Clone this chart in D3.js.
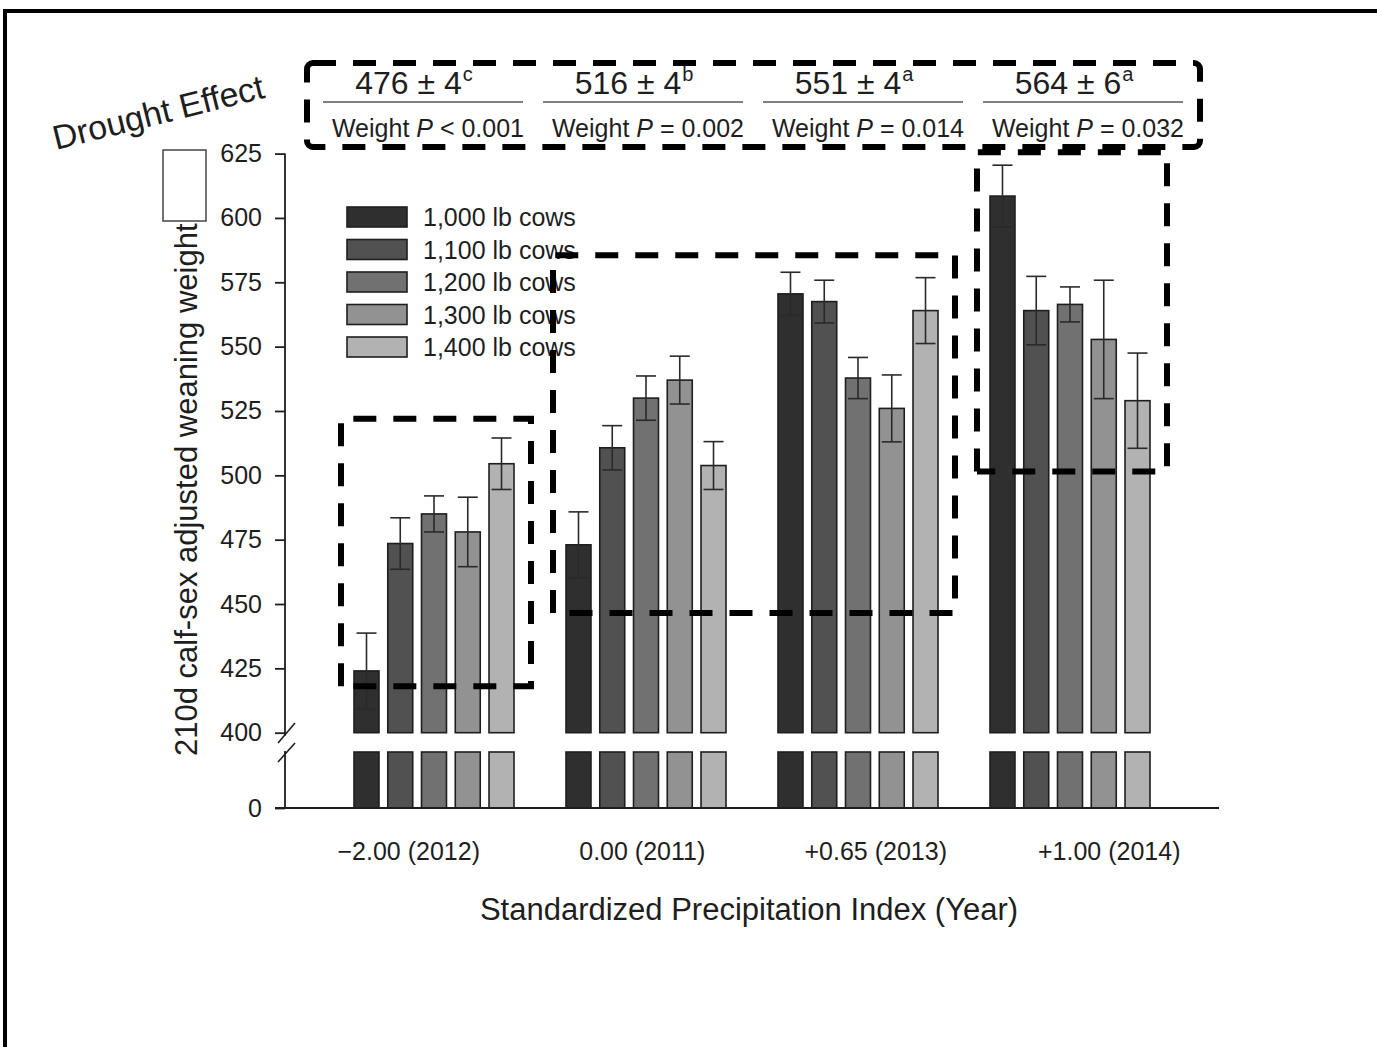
<!DOCTYPE html>
<html><head><meta charset="utf-8">
<script src="https://cdn.jsdelivr.net/npm/d3@7"></script>
<style>
html,body{margin:0;padding:0;background:#fff;}
svg{display:block;font-family:"Liberation Sans",Arial,sans-serif;}
</style></head><body>
<svg id="chart" width="1377" height="1047"></svg>
<script>
// ---------- data ----------
const years = ["\u22122.00 (2012)", "0.00 (2011)", "+0.65 (2013)", "+1.00 (2014)"];
const cowSizes = ["1,000 lb cows","1,100 lb cows","1,200 lb cows","1,300 lb cows","1,400 lb cows"];
const weight2012 = [424, 473.5, 485, 478, 504.5];
const se2012     = [14.7, 10, 7, 13.5, 10];
const weight2011 = [473, 510.7, 530, 537, 503.8];
const se2011     = [12.8, 8.6, 8.6, 9.3, 9.3];
const weight2013 = [570.5, 567.5, 537.8, 526, 564];
const se2013     = [8.4, 8.3, 8, 13, 12.8];
const weight2014 = [608.5, 564, 566.4, 552.8, 529];
const se2014     = [12, 13.3, 6.8, 23, 18.5];
const yTicks = [400,425,450,475,500,525,550,575,600,625];
const droughtMean   = [476, 516, 551, 564];
const droughtSE     = [4, 4, 4, 6];
const droughtLetter = ["c", "b", "a", "a"];
const weightP       = ["< 0.001", "= 0.002", "= 0.014", "= 0.032"];
// dashed annotation boxes (which year groups, low / high weight)
const boxYears = [[0], [1, 2], [3]];
const boxLow   = [418, 446.5, 501.5];
const boxHigh  = [522, 585.5, 625.5];

const fills = ["#2f2f2f", "#515151", "#717171", "#929292", "#b2b2b2"];
const weights = [weight2012, weight2011, weight2013, weight2014];
const ses = [se2012, se2011, se2013, se2014];

const rows = [];
years.forEach((yr, gi) => cowSizes.forEach((cs, si) => rows.push({yr, cs, si, v: weights[gi][si], se: ses[gi][si]})));

// ---------- scales ----------
const svg = d3.select("#chart");
const ink = "#1e1e1e";
const yUp  = d3.scaleLinear().domain([400, 625]).range([732.7, 153.6]);
const yLow = d3.scaleLinear().domain([0, 400]).range([808, 752]);
const x0 = d3.scaleBand().domain(years).range([285, 1219]).paddingInner(0.2453).paddingOuter(0.3255);
const x1 = d3.scaleBand().domain(cowSizes).range([0, x0.bandwidth()]).paddingInner(0.26).paddingOuter(0);
const xLab = d3.scaleBand().domain(years).range([292, 1226]);
const xHead = d3.scaleBand().domain(years).range([313, 1193]);

// ---------- frame ----------
svg.append("line").attr("x1", 5).attr("x2", 5).attr("y1", 9).attr("y2", 1047).attr("stroke", "#000").attr("stroke-width", 4);
svg.append("line").attr("x1", 3).attr("x2", 1377).attr("y1", 11).attr("y2", 11).attr("stroke", "#000").attr("stroke-width", 4);

// ---------- bars ----------
const g = svg.append("g");
g.selectAll("rect.up").data(rows).join("rect").attr("class", "up")
  .attr("x", d => x0(d.yr) + x1(d.cs)).attr("width", x1.bandwidth())
  .attr("y", d => yUp(d.v)).attr("height", d => yUp(400) - yUp(d.v))
  .attr("fill", d => fills[d.si]).attr("stroke", ink).attr("stroke-width", 1.6);
g.selectAll("rect.low").data(rows).join("rect").attr("class", "low")
  .attr("x", d => x0(d.yr) + x1(d.cs)).attr("width", x1.bandwidth())
  .attr("y", yLow(400)).attr("height", yLow(0) - yLow(400))
  .attr("fill", d => fills[d.si]).attr("stroke", ink).attr("stroke-width", 1.6);

// error bars
const cap = 10;
const eb = g.selectAll("g.eb").data(rows).join("g").attr("class", "eb")
  .attr("transform", d => `translate(${x0(d.yr) + x1(d.cs) + x1.bandwidth() / 2},0)`)
  .attr("stroke", "#2a2a2a").attr("stroke-width", 1.6);
eb.append("line").attr("x1", 0).attr("x2", 0).attr("y1", d => yUp(d.v + d.se)).attr("y2", d => yUp(d.v - d.se));
eb.append("line").attr("x1", -cap).attr("x2", cap).attr("y1", d => yUp(d.v + d.se)).attr("y2", d => yUp(d.v + d.se));
eb.append("line").attr("x1", -cap).attr("x2", cap).attr("y1", d => yUp(d.v - d.se)).attr("y2", d => yUp(d.v - d.se));

// ---------- axes ----------
const ya = svg.append("g").attr("transform", "translate(285,0)")
  .call(d3.axisLeft(yUp).tickValues(yTicks).tickSize(10).tickPadding(13));
const yb = svg.append("g").attr("transform", "translate(285,0)")
  .call(d3.axisLeft(yLow).tickValues([0]).tickSize(10).tickPadding(13));
[ya, yb].forEach(a => {
  a.select(".domain").remove();
  a.selectAll(".tick line").attr("stroke", ink).attr("stroke-width", 1.8);
  a.selectAll(".tick text").attr("fill", ink).style("font-size", "25px").style("font-family", "Liberation Sans, Arial, sans-serif");
});
svg.append("line").attr("x1", 285).attr("x2", 285).attr("y1", yUp(625)).attr("y2", yUp(400) + 3).attr("stroke", ink).attr("stroke-width", 1.8);
svg.append("line").attr("x1", 285).attr("x2", 285).attr("y1", yLow(400) - 1).attr("y2", yLow(0)).attr("stroke", ink).attr("stroke-width", 1.8);
// break marks
svg.append("line").attr("x1", 278).attr("y1", 743).attr("x2", 295).attr("y2", 723).attr("stroke", ink).attr("stroke-width", 1.6);
svg.append("line").attr("x1", 278).attr("y1", 762).attr("x2", 295).attr("y2", 743).attr("stroke", ink).attr("stroke-width", 1.6);
// x axis line
svg.append("line").attr("x1", 275).attr("x2", 1219).attr("y1", yLow(0)).attr("y2", yLow(0)).attr("stroke", ink).attr("stroke-width", 1.8);

// x labels
svg.append("g").selectAll("text").data(years).join("text")
  .attr("x", d => xLab(d) + xLab.bandwidth() / 2).attr("y", 860)
  .attr("text-anchor", "middle").attr("fill", ink).style("font-size", "25px").text(d => d);
svg.append("text").attr("x", 749).attr("y", 920).attr("text-anchor", "middle").attr("fill", ink)
  .style("font-size", "31px").text("Standardized Precipitation Index (Year)");

// y label
svg.append("text").attr("transform", "translate(197,756) rotate(-90)").attr("fill", ink)
  .style("font-size", "31px").text("210d calf-sex adjusted weaning weight");
svg.append("rect").attr("x", 163).attr("y", 150).attr("width", 43).attr("height", 71)
  .attr("fill", "#fff").attr("stroke", "#444").attr("stroke-width", 1.5);

// ---------- legend ----------
const lg = svg.append("g").selectAll("g").data(cowSizes).join("g")
  .attr("transform", (d, i) => `translate(347,${207 + i * 32.5})`);
lg.append("rect").attr("width", 60).attr("height", 20).attr("fill", (d, i) => fills[i]).attr("stroke", ink).attr("stroke-width", 1.6);
lg.append("text").attr("x", 76).attr("y", 19).attr("fill", ink).style("font-size", "25px").text(d => d);

// ---------- dashed boxes ----------
boxYears.forEach((ys, i) => {
  const l = x0(years[ys[0]]) - 13;
  const r = x0(years[ys[ys.length - 1]]) + x0.bandwidth() + 17;
  const t = yUp(boxHigh[i]), b = yUp(boxLow[i]);
  svg.append("path").attr("d", `M${l},${b}V${t}H${r}V${b}H${l}`)
    .attr("fill", "none").attr("stroke", "#000").attr("stroke-width", 6)
    .attr("stroke-dasharray", "23,17");
});

// ---------- header ----------
svg.append("rect").attr("x", 307).attr("y", 63).attr("width", 893).attr("height", 84).attr("rx", 6)
  .attr("fill", "none").attr("stroke", "#000").attr("stroke-width", 6).attr("stroke-dasharray", "23,17");
const hd = svg.append("g").selectAll("g").data(years).join("g")
  .attr("transform", d => `translate(${xHead(d) + xHead.bandwidth() / 2},0)`);
hd.append("line").attr("x1", -100).attr("x2", 100).attr("y1", 102).attr("y2", 102).attr("stroke", "#808080").attr("stroke-width", 2);
const num = hd.append("text").attr("x", -9).attr("y", 94).attr("text-anchor", "middle").attr("fill", ink).style("font-size", "32px");
num.append("tspan").text((d, i) => `${droughtMean[i]} \u00b1 ${droughtSE[i]}`);
num.append("tspan").attr("dy", -13).attr("dx", 1).style("font-size", "20px").text((d, i) => droughtLetter[i]);
const wt = hd.append("text").attr("x", 5).attr("y", 137).attr("text-anchor", "middle").attr("fill", ink).style("font-size", "25px");
wt.append("tspan").text("Weight ");
wt.append("tspan").style("font-style", "italic").text("P");
wt.append("tspan").text((d, i) => " " + weightP[i]);

svg.append("text").attr("transform", "translate(56,150) rotate(-14)").attr("fill", ink)
  .style("font-size", "34px").text("Drought Effect");
</script>
</body></html>
